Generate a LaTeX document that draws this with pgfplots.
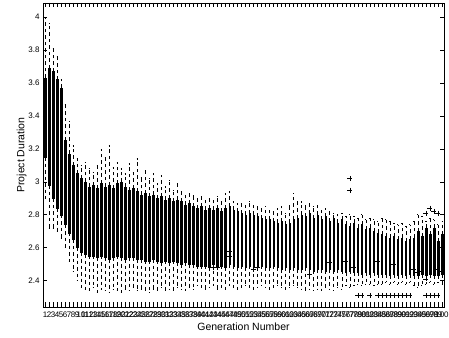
\documentclass[border=0pt]{standalone}
\usepackage{pgfplots}
\pgfplotsset{compat=1.18}
\usepackage{pgfplotstable}
\usepgfplotslibrary{statistics}
\usepackage{fontspec}
\setmainfont{Liberation Sans}
\pgfplotstableread{
g lw q1 med q3 uw
1 2.90 3.15 3.35 3.63 4.00
2 2.72 2.98 3.15 3.69 3.96
3 2.72 2.90 3.07 3.67 3.81
4 2.70 2.84 2.98 3.62 3.76
5 2.66 2.80 2.92 3.57 3.62
6 2.60 2.74 2.85 3.25 3.47
7 2.52 2.69 2.78 3.17 3.37
8 2.46 2.65 2.72 3.10 3.22
9 2.40 2.60 2.66 3.05 3.14
10 2.36 2.57 2.62 3.02 3.10
11 2.35 2.56 2.60 3.00 3.12
12 2.34 2.55 2.59 2.97 3.08
13 2.36 2.55 2.59 2.98 3.06
14 2.33 2.54 2.58 2.96 3.10
15 2.35 2.55 2.59 2.99 3.20
16 2.34 2.54 2.58 2.97 3.15
17 2.33 2.53 2.57 2.98 3.22
18 2.35 2.54 2.58 2.96 3.09
19 2.34 2.55 2.59 2.99 3.12
20 2.33 2.54 2.57 3.00 3.08
21 2.35 2.53 2.58 2.97 3.05
22 2.34 2.54 2.58 2.95 3.11
23 2.36 2.54 2.57 2.96 3.06
24 2.34 2.53 2.56 2.94 3.14
25 2.35 2.53 2.57 2.92 3.03
26 2.34 2.52 2.56 2.93 3.07
27 2.33 2.52 2.55 2.91 3.02
28 2.35 2.53 2.56 2.92 3.05
29 2.34 2.52 2.55 2.90 2.99
30 2.36 2.51 2.55 2.91 3.04
31 2.34 2.52 2.56 2.89 2.97
32 2.35 2.51 2.54 2.90 3.01
33 2.34 2.52 2.55 2.88 2.95
34 2.36 2.51 2.54 2.89 2.99
35 2.35 2.50 2.54 2.88 2.94
36 2.34 2.51 2.55 2.86 2.92
37 2.36 2.50 2.53 2.87 2.93
38 2.35 2.50 2.53 2.85 2.92
39 2.37 2.49 2.52 2.84 2.90
40 2.36 2.49 2.52 2.85 2.91
41 2.35 2.49 2.52 2.83 2.89
42 2.36 2.48 2.51 2.84 2.90
43 2.37 2.50 2.52 2.83 2.89
44 2.35 2.49 2.51 2.84 2.91
45 2.36 2.49 2.52 2.82 2.88
46 2.35 2.48 2.51 2.84 2.93
47 2.37 2.50 2.53 2.85 2.94
48 2.36 2.49 2.52 2.83 2.88
49 2.35 2.48 2.51 2.82 2.87
50 2.36 2.49 2.52 2.81 2.87
51 2.37 2.48 2.51 2.80 2.86
52 2.36 2.49 2.52 2.81 2.88
53 2.35 2.48 2.51 2.80 2.86
54 2.36 2.48 2.50 2.79 2.85
55 2.37 2.49 2.52 2.78 2.84
56 2.36 2.48 2.51 2.77 2.85
57 2.35 2.48 2.51 2.77 2.83
58 2.36 2.49 2.52 2.76 2.82
59 2.37 2.48 2.51 2.75 2.84
60 2.36 2.47 2.50 2.76 2.85
61 2.35 2.48 2.51 2.74 2.81
62 2.36 2.47 2.50 2.75 2.86
63 2.37 2.48 2.51 2.77 2.93
64 2.36 2.47 2.50 2.78 2.88
65 2.35 2.47 2.50 2.80 2.88
66 2.34 2.48 2.51 2.79 2.86
67 2.35 2.47 2.50 2.81 2.87
68 2.34 2.46 2.50 2.78 2.85
69 2.35 2.47 2.50 2.80 2.86
70 2.34 2.47 2.49 2.77 2.83
71 2.36 2.46 2.49 2.79 2.84
72 2.35 2.47 2.50 2.76 2.82
73 2.34 2.46 2.49 2.78 2.81
74 2.36 2.47 2.50 2.75 2.80
75 2.35 2.46 2.49 2.77 2.81
76 2.37 2.45 2.48 2.74 2.79
77 2.36 2.46 2.49 2.73 2.80
78 2.37 2.45 2.48 2.75 2.79
79 2.38 2.45 2.48 2.72 2.78
80 2.37 2.44 2.47 2.74 2.80
81 2.38 2.45 2.48 2.71 2.77
82 2.38 2.44 2.47 2.72 2.78
83 2.37 2.45 2.48 2.70 2.77
84 2.38 2.44 2.47 2.69 2.76
85 2.38 2.44 2.47 2.68 2.78
86 2.39 2.44 2.47 2.67 2.77
87 2.38 2.43 2.46 2.66 2.76
88 2.39 2.44 2.47 2.67 2.75
89 2.38 2.43 2.46 2.65 2.74
90 2.39 2.44 2.47 2.66 2.75
91 2.38 2.43 2.46 2.64 2.73
92 2.39 2.44 2.46 2.65 2.74
93 2.37 2.43 2.46 2.66 2.76
94 2.36 2.43 2.46 2.70 2.80
95 2.37 2.44 2.47 2.67 2.79
96 2.38 2.43 2.46 2.72 2.76
97 2.39 2.44 2.47 2.68 2.78
98 2.38 2.43 2.46 2.72 2.77
99 2.39 2.43 2.46 2.64 2.74
100 2.38 2.44 2.47 2.68 2.76
}\boxdata
\pgfplotstableread{
x y
77 3.02
77 2.95
79 2.31
80 2.31
82 2.31
84 2.31
85 2.31
86 2.31
87 2.31
88 2.31
89 2.31
90 2.31
91 2.31
92 2.31
96 2.31
97 2.31
98 2.31
99 2.31
97 2.84
96 2.81
98 2.82
99 2.81
43 2.48
44 2.48
47 2.55
47 2.58
53 2.47
54 2.48
67 2.44
72 2.51
76 2.52
78 2.48
84 2.52
88 2.50
93 2.47
94 2.45
95 2.46
96 2.41
99 2.47
100 2.46
}\outl
\begin{document}
\begin{tikzpicture}
\useasboundingbox (-43pt,-30pt) rectangle (406pt,307pt);
\begin{axis}[
  scale only axis,
  width=401pt, height=304pt,
  xmin=0.5, xmax=100.5,
  ymin=2.24, ymax=4.085,
  xtick={1,...,100},
  ytick={2.4,2.6,2.8,3,3.2,3.4,3.6,3.8,4},
  yticklabels={2.4,2.6,2.8,3,3.2,3.4,3.6,3.8,4},
  tick align=inside,
  major tick length=4.5pt,
  tick style={black, line width=0.5pt},
  axis line style={black, line width=0.9pt},
  /pgf/number format/assume math mode=true,
  xticklabel style={font=\fontsize{8}{8}\selectfont, inner sep=0pt, yshift=-5pt},
  yticklabel style={font=\fontsize{8}{9}\selectfont},
  xlabel={Generation Number},
  ylabel={Project Duration},
  label style={font=\fontsize{10.5}{12}\selectfont},
  xlabel style={at={(axis description cs:0.5,0)}, anchor=center, yshift=-20pt},
  ylabel style={yshift=-5pt},
  boxplot/draw direction=y,
  boxplot/box extend=0.38,
  boxplot/whisker extend=0.25,
  boxplot/every box/.style={draw=black, fill=black, line width=0.4pt},
  boxplot/every whisker/.style={black, line width=0.5pt, dash pattern=on 3.5pt off 3pt},
  boxplot/every median/.style={black, line width=0.9pt},
]
\pgfplotsinvokeforeach{0,...,99}{
  \pgfplotstablegetelem{#1}{lw}\of\boxdata \edef\vA{\pgfplotsretval}
  \pgfplotstablegetelem{#1}{q1}\of\boxdata \edef\vB{\pgfplotsretval}
  \pgfplotstablegetelem{#1}{med}\of\boxdata \edef\vC{\pgfplotsretval}
  \pgfplotstablegetelem{#1}{q3}\of\boxdata \edef\vD{\pgfplotsretval}
  \pgfplotstablegetelem{#1}{uw}\of\boxdata \edef\vE{\pgfplotsretval}
  \edef\doplot{\noexpand\addplot[black, boxplot/draw direction=y, boxplot prepared={draw position=\the\numexpr#1+1\relax,
     lower whisker=\vA, lower quartile=\vB, median=\vC,
     upper quartile=\vD, upper whisker=\vE}] coordinates {};}
  \doplot
}
\addplot[only marks, mark=+, mark size=2.5pt, black, line width=0.5pt] table[x=x, y=y] {\outl};
\end{axis}
\end{tikzpicture}
\end{document}
